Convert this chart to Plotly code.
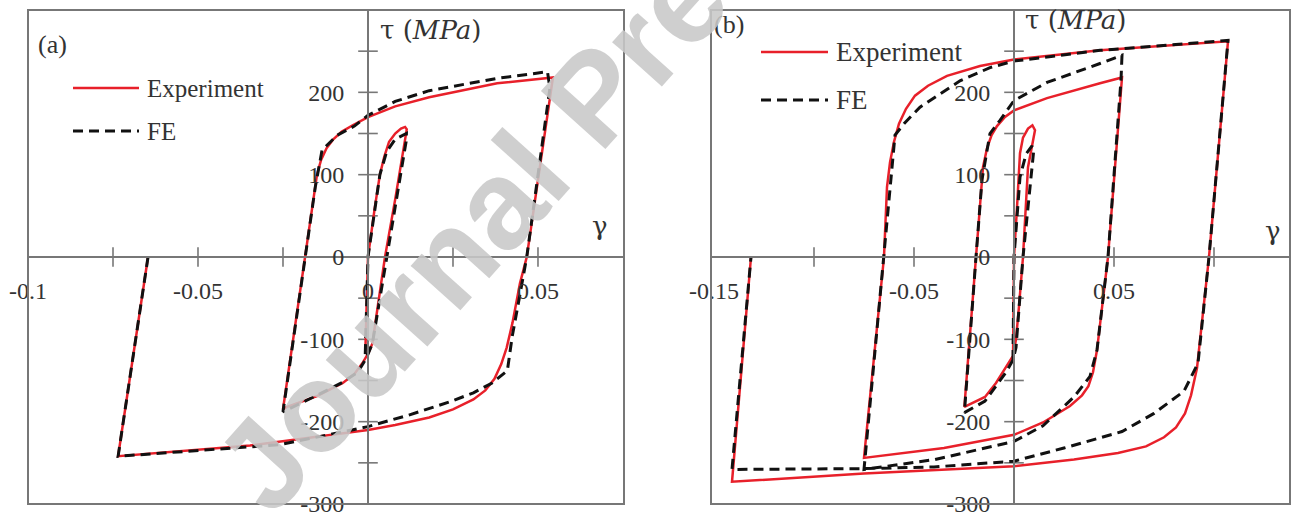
import plotly.graph_objects as go

# ---------------- data: panel (a) ----------------
A_EXP_GAMMA = [-0.0008, 0.0, 0.0020, 0.0035, 0.0048, 0.0062, 0.0080, 0.0097, 0.0109, 0.0114,
               0.0080, 0.0050, 0.0027, 0.0013, 0.0002, -0.0015, -0.0040, -0.0074, -0.0150, -0.0238, -0.0250,
               -0.0185, -0.0150, -0.0138, -0.0122, -0.0102, -0.0078, -0.0045, 0.0, 0.0080, 0.0180, 0.0380, 0.0544,
               0.0467, 0.0447, 0.0425, 0.0408, 0.0392, 0.0372, 0.0345, 0.0310, 0.0250, 0.0180, 0.0080, 0.0,
               -0.0347, -0.0735, -0.0647]
A_EXP_TAU = [-118, 0, 60, 100, 122, 140, 150, 156, 158, 155,
             70, 0, -65, -105, -116, -128, -142, -153, -169, -182, -185,
             0, 100, 118, 132, 143, 152, 160, 170, 183, 194, 211, 218,
             0, -32, -80, -110, -130, -148, -162, -173, -185, -195, -204, -210,
             -229, -242, 0]

A_FE_GAMMA = [-0.0008, 0.0, 0.0035, 0.0055, 0.0080, 0.0103, 0.0113, 0.0112,
              0.0055, 0.0013, -0.0005, -0.0030, -0.0074, -0.0150, -0.0250,
              -0.0185, -0.0155, -0.0135, -0.0090, -0.0040, 0.0, 0.0080, 0.0180, 0.0380, 0.0528, 0.0535,
              0.0467, 0.0445, 0.0424, 0.0410, 0.0365, 0.0310, 0.0240, 0.0120, 0.0,
              -0.0260, -0.0735, -0.0647]
A_FE_TAU = [-118, 0, 100, 128, 143, 148, 150, 140,
            0, -105, -123, -140, -152, -168, -188,
            0, 85, 130, 148, 159, 172, 189, 202, 217, 225, 205,
            0, -50, -97, -138, -153, -165, -176, -192, -206,
            -228, -242, 0]

# ---------------- data: panel (b) ----------------
B_EXP_GAMMA = [-0.0005, 0.0, 0.0015, 0.0030, 0.0045, 0.0070, 0.0092, 0.0105,
               0.0070, 0.0045, 0.0025, 0.0010, -0.0005, -0.0040, -0.0090, -0.0145, -0.0248,
               -0.0190, -0.0155, -0.0135, -0.0112, -0.0085, -0.0045, 0.0, 0.0165, 0.0430, 0.0540,
               0.0470, 0.0415, 0.0395, 0.0372, 0.0340, 0.0280, 0.0145, 0.0, -0.0350, -0.0750,
               -0.0650, -0.0635, -0.0620, -0.0600, -0.0575, -0.0540, -0.0495, -0.0430, -0.0335, -0.0170,
               0.0, 0.0430, 0.1070,
               0.0975, 0.0915, 0.0885, 0.0855, 0.0810, 0.0750, 0.0660, 0.0520, 0.0300, 0.0,
               -0.0750, -0.1410,
               -0.1315]
B_EXP_TAU = [-125, 0, 60, 126, 145, 156, 160, 154,
             109, 0, -60, -100, -120, -133, -153, -170, -182,
             0, 109, 132, 148, 159, 170, 178, 193, 211, 218,
             0, -113, -140, -157, -168, -181, -201, -216, -232, -244,
             0, 85, 115, 140, 162, 180, 196, 208, 220, 232,
             240, 251, 262,
             0, -135, -168, -190, -207, -219, -230, -238, -246, -254,
             -263, -273,
             0]

B_FE_GAMMA = [-0.0005, 0.0, 0.0030, 0.0060, 0.0090, 0.0098,
              0.0045, 0.0010, -0.0005, -0.0040, -0.0145, -0.0248,
              -0.0190, -0.0160, -0.0120, -0.0070, 0.0, 0.0165, 0.0430, 0.0540, 0.0535,
              0.0470, 0.0415, 0.0380, 0.0300, 0.0145, 0.0, -0.0395, -0.0750,
              -0.0650, -0.0595, -0.0550, -0.0470, -0.0270, -0.0120, 0.0, 0.0430, 0.1070,
              0.0975, 0.0920, 0.0850, 0.0700, 0.0540, 0.0250, 0.0, -0.0400, -0.0750, -0.1410,
              -0.1315]
B_FE_TAU = [-125, 0, 97, 125, 135, 128,
            0, -110, -125, -140, -175, -189,
            0, 94, 150, 166, 190, 212, 235, 245, 215,
            0, -113, -145, -170, -205, -224, -246, -258,
            0, 148, 162, 182, 214, 230, 238, 251, 263,
            0, -129, -163, -190, -212, -232, -248, -255, -257, -258,
            0]

# ---------------- axes: ticks and labels ----------------
A_X_RANGE = [-0.1, 0.0753]
B_X_RANGE = [-0.1515, 0.138]
Y_RANGE = [-300, 300]

A_X_LABELS = [-0.1, -0.05, 0, 0.05]
A_X_TEXT = ["-0.1", "-0.05", "0", "0.05"]
A_X_MINOR = [-0.075, -0.05, -0.025, 0.025, 0.05]

B_X_LABELS = [-0.15, -0.05, 0.05]
B_X_TEXT = ["-0.15", "-0.05", "0.05"]
B_X_MINOR = [-0.1, -0.05, 0.05, 0.1]

Y_LABELS = [-300, -200, -100, 0, 100, 200]
Y_TEXT = ["-300", "-200", "-100", "0", "100", "200"]
Y_MINOR = [-250, -200, -150, -100, -50, 50, 100, 150, 200, 250]

# ---------------- styling ----------------
W, H = 1293, 514
RED = "#e8202a"
BLACK = "#111111"
AXIS = "#777777"
TEXT = "#333333"
SERIF = "Liberation Serif"
MATH = "DejaVu Serif"


def fx(p):
    return p / W


def fy(p):
    return 1 - p / H


fig = go.Figure()

panels = [
    ("x", "y", A_EXP_GAMMA, A_EXP_TAU, A_FE_GAMMA, A_FE_TAU, A_X_MINOR),
    ("x2", "y2", B_EXP_GAMMA, B_EXP_TAU, B_FE_GAMMA, B_FE_TAU, B_X_MINOR),
]

for xa, ya, eg, et, fg, ft, xminor in panels:
    # crossing tick marks on both axes
    fig.add_trace(go.Scatter(
        x=xminor, y=[0] * len(xminor), xaxis=xa, yaxis=ya, mode="markers",
        marker=dict(symbol="line-ns", size=14, line=dict(width=1.6, color=AXIS)),
        showlegend=False, hoverinfo="skip", cliponaxis=False))
    fig.add_trace(go.Scatter(
        x=[0] * len(Y_MINOR), y=Y_MINOR, xaxis=xa, yaxis=ya, mode="markers",
        marker=dict(symbol="line-ew", size=14, line=dict(width=1.6, color=AXIS)),
        showlegend=False, hoverinfo="skip", cliponaxis=False))
    fig.add_trace(go.Scatter(
        x=eg, y=et, xaxis=xa, yaxis=ya, mode="lines", name="Experiment",
        line=dict(color=RED, width=2.5), showlegend=False))
    fig.add_trace(go.Scatter(
        x=fg, y=ft, xaxis=xa, yaxis=ya, mode="lines", name="FE",
        line=dict(color=BLACK, width=3, dash="10px,6px"), showlegend=False))

Y_DOMAIN = [(H - 504) / H, (H - 10) / H]

common_x = dict(showgrid=False, zeroline=False, showline=True, linecolor=AXIS, linewidth=1.8,
                ticks="", anchor="free", position=fy(257), tickmode="array", automargin=False,
                ticklabeloverflow="allow",
                tickfont=dict(family=SERIF, size=24, color=TEXT), ticklabelstandoff=12)
common_y = dict(showgrid=False, zeroline=False, showline=True, linecolor=AXIS, linewidth=1.8,
                ticks="", anchor="free", tickmode="array", range=Y_RANGE, domain=Y_DOMAIN,
                tickvals=Y_LABELS, ticktext=Y_TEXT, side="left", automargin=False,
                ticklabeloverflow="allow",
                tickfont=dict(family=SERIF, size=24, color=TEXT), ticklabelstandoff=18)

fig.update_layout(
    width=W, height=H, margin=dict(l=0, r=0, t=0, b=0, autoexpand=False),
    paper_bgcolor="white", plot_bgcolor="white", showlegend=False,
    xaxis=dict(common_x, domain=[fx(28), fx(624)], range=A_X_RANGE,
               tickvals=A_X_LABELS, ticktext=A_X_TEXT),
    yaxis=dict(common_y, position=fx(368)),
    xaxis2=dict(common_x, domain=[fx(711), fx(1290)], range=B_X_RANGE,
                tickvals=B_X_LABELS, ticktext=B_X_TEXT),
    yaxis2=dict(common_y, position=fx(1014)),
)

shapes = []
annotations = []

# panel frames
for xa, ya in (("x", "y"), ("x2", "y2")):
    shapes.append(dict(type="rect", xref=f"{xa} domain", yref=f"{ya} domain",
                       x0=0, x1=1, y0=0, y1=1, line=dict(color=AXIS, width=2), layer="above"))


def legend_block(x_line0, x_line1, y_exp, y_fe, size):
    shapes.append(dict(type="line", xref="paper", yref="paper",
                       x0=fx(x_line0), x1=fx(x_line1), y0=fy(y_exp), y1=fy(y_exp),
                       line=dict(color=RED, width=2.5)))
    shapes.append(dict(type="line", xref="paper", yref="paper",
                       x0=fx(x_line0), x1=fx(x_line1), y0=fy(y_fe), y1=fy(y_fe),
                       line=dict(color=BLACK, width=3, dash="10px,6px")))
    for label, yy in (("Experiment", y_exp), ("FE", y_fe)):
        annotations.append(dict(text=label, xref="paper", yref="paper", x=fx(x_line1 + 6), y=fy(yy),
                                xanchor="left", yanchor="middle", showarrow=False,
                                font=dict(family=SERIF, size=size, color=TEXT)))


legend_block(73, 139, 88, 131, 25)
legend_block(761, 828, 52, 100, 27)


def text_at(txt, x, y, size, family=SERIF, xanchor="left"):
    annotations.append(dict(text=txt, xref="paper", yref="paper", x=fx(x), y=fy(y),
                            xanchor=xanchor, yanchor="middle", showarrow=False,
                            font=dict(family=family, size=size, color=TEXT)))


text_at("(a)", 36, 44, 26)
text_at("(b)", 712, 24, 26)
text_at("τ (<i>MPa</i>)", 378, 30, 26, MATH)
text_at("τ (<i>MPa</i>)", 1023, 20, 26, MATH)
text_at("γ", 600, 226, 26, MATH, "center")
text_at("γ", 1273, 231, 26, MATH, "center")

# publisher watermark
annotations.append(dict(text="Journal Pre-proof", xref="paper", yref="paper",
                        x=fx(593), y=fy(97), xanchor="center", yanchor="middle",
                        textangle=-48, showarrow=False,
                        font=dict(family="Liberation Sans", size=126, weight="bold",
                                  color="rgba(200,200,200,0.88)")))

fig.update_layout(shapes=shapes, annotations=annotations)

fig.write_html("out.html")
